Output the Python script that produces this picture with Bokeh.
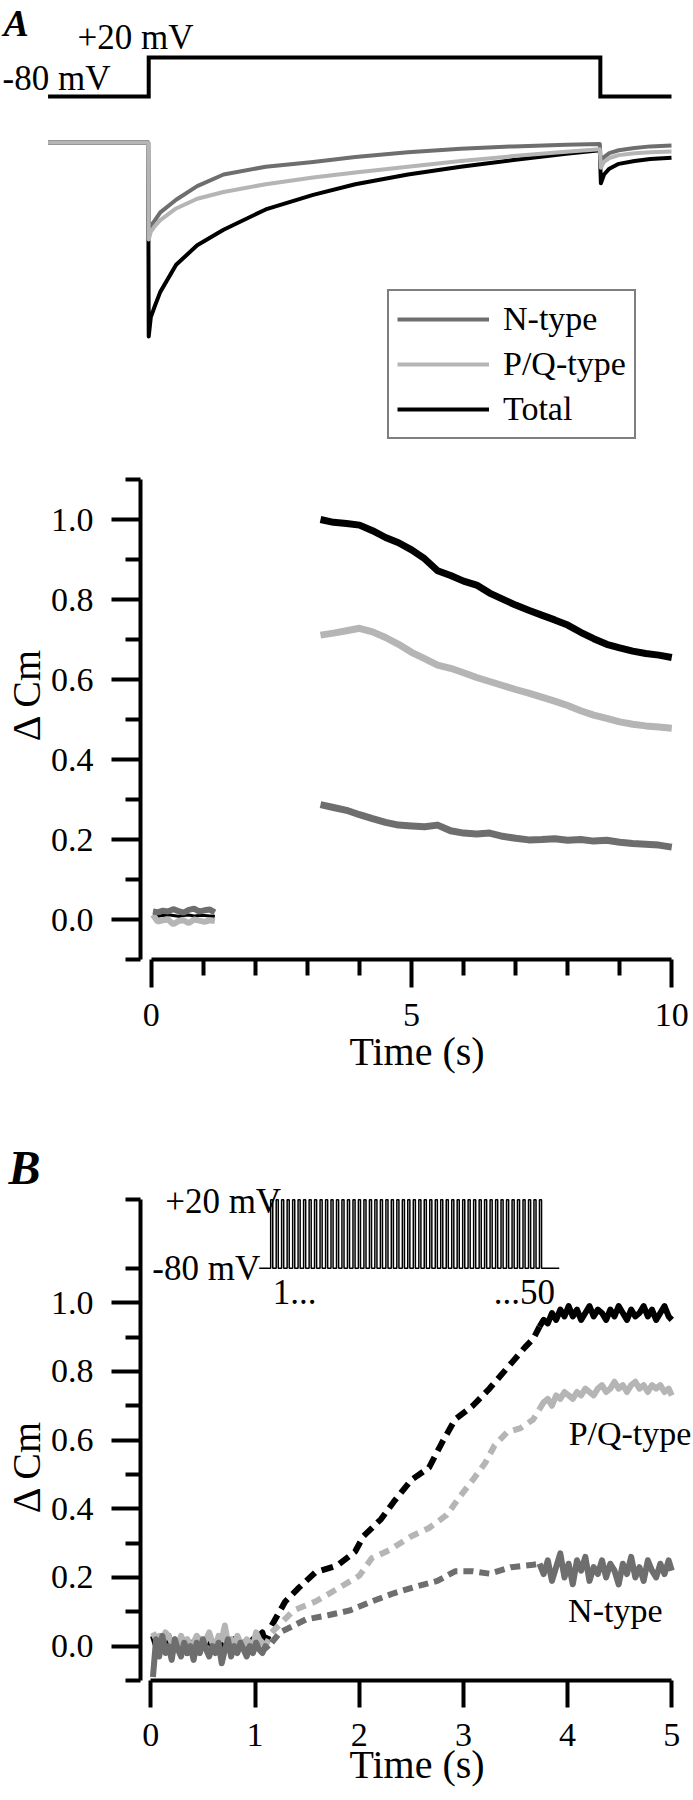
from bokeh.plotting import figure
from bokeh.models import (Range1d, FixedTicker, NumeralTickFormatter, Label,
                          Legend, LegendItem)
from bokeh.layouts import column
from bokeh.embed import file_html
from bokeh.resources import INLINE

FONT = "Liberation Serif"
C_N = "#6e6e6e"
C_PQ = "#b5b5b5"
C_T = "#000000"
NB = "\u00a0"

# ---------------- Panel A (top): voltage protocol and currents ----------------
volt_t = [-1.83, 0.08, 0.08, 8.65, 8.65, 10.0]
volt_mv = [-80, -80, 20, 20, -80, -80]

cur_t = [-1.83, 0.07, 0.08, 0.12, 0.2, 0.3, 0.6, 1.0, 1.5, 2.3, 3.2, 4.0, 5.0, 6.0,
         7.0, 8.0, 8.64, 8.66, 8.72, 8.82, 9.0, 9.3, 9.6, 10.0]
cur_total = [0, 0, -1.0, -0.90, -0.84, -0.77, -0.63, -0.53, -0.45, -0.345,
             -0.27, -0.215, -0.165, -0.125, -0.09, -0.058, -0.04,
             -0.21, -0.165, -0.135, -0.11, -0.095, -0.085, -0.078]
cur_n = [0, 0, -0.47, -0.43, -0.40, -0.36, -0.295, -0.225, -0.165, -0.125,
         -0.1, -0.075, -0.05, -0.032, -0.02, -0.012, -0.008,
         -0.11, -0.075, -0.055, -0.04, -0.028, -0.02, -0.015]
cur_pq = [0, 0, -0.50, -0.46, -0.43, -0.40, -0.34, -0.29, -0.255, -0.215,
          -0.18, -0.155, -0.125, -0.095, -0.07, -0.048, -0.035,
          -0.13, -0.1, -0.08, -0.065, -0.055, -0.05, -0.047]

# ---------------- Panel A (bottom): delta Cm, single depolarisation ----------------
a_pre_t = [0.03, 0.12, 0.22, 0.32, 0.42, 0.52, 0.62, 0.72, 0.82, 0.92, 1.02, 1.12, 1.22]
a_pre_n = [0.02, 0.018, 0.022, 0.02, 0.026, 0.021, 0.017, 0.024, 0.027, 0.02, 0.023, 0.025, 0.018]
a_pre_pq = [0.012, -0.005, -0.002, 0.0, -0.012, -0.004, -0.002, -0.009, 0.0, -0.003, -0.006, -0.002, -0.004]
a_pre_total = [0.01, 0.008, 0.01, 0.012, 0.01, 0.008, 0.01, 0.011, 0.009, 0.01, 0.01, 0.009, 0.008]

a_t = [3.25, 3.5, 3.75, 4.0, 4.25, 4.5, 4.75, 5.0, 5.25, 5.5, 5.75, 6.0, 6.25, 6.5,
       6.75, 7.0, 7.25, 7.5, 7.75, 8.0, 8.25, 8.5, 8.75, 9.0, 9.25, 9.5, 9.75, 10.0]
a_total = [1.0, 0.993, 0.99, 0.986, 0.972, 0.955, 0.942, 0.924, 0.902, 0.872,
           0.86, 0.846, 0.836, 0.816, 0.801, 0.786, 0.773, 0.761, 0.749, 0.736,
           0.718, 0.702, 0.688, 0.679, 0.671, 0.665, 0.661, 0.655]
a_pq = [0.711, 0.716, 0.722, 0.728, 0.719, 0.705, 0.688, 0.668, 0.652, 0.636,
        0.628, 0.617, 0.605, 0.595, 0.585, 0.575, 0.566, 0.556, 0.546, 0.535,
        0.522, 0.511, 0.503, 0.494, 0.488, 0.484, 0.481, 0.478]
a_n = [0.287, 0.28, 0.273, 0.262, 0.252, 0.243, 0.236, 0.234, 0.232, 0.236,
       0.222, 0.216, 0.214, 0.216, 0.208, 0.203, 0.199, 0.2, 0.202, 0.198,
       0.2, 0.196, 0.198, 0.193, 0.19, 0.188, 0.186, 0.181]

# ---------------- Panel B: delta Cm during a 50-pulse train ----------------
b_pre_t = [0.02, 0.05, 0.08, 0.11, 0.14, 0.17, 0.20, 0.23, 0.26, 0.29,
           0.32, 0.35, 0.38, 0.41, 0.44, 0.47, 0.50, 0.53, 0.56, 0.59,
           0.62, 0.65, 0.68, 0.71, 0.74, 0.77, 0.80, 0.83, 0.86, 0.89,
           0.92, 0.95, 0.98, 1.01, 1.04, 1.07, 1.10, 1.13]
b_pre_total = [0.03, 0.0, 0.02, -0.01, 0.01, 0.03, 0.0, -0.01, 0.01, 0.02,
               0.0, -0.02, 0.01, 0.0, 0.02, -0.01, 0.0, 0.01, 0.03, -0.01,
               0.0, 0.02, 0.0, -0.01, 0.01, 0.0, 0.02, -0.01, 0.0, 0.01,
               -0.01, 0.0, 0.02, 0.01, 0.03, 0.04, 0.01, 0.03]
b_pre_pq = [0.04, 0.02, 0.03, 0.0, 0.04, 0.03, 0.01, 0.02, 0.0, 0.03,
            0.01, 0.02, 0.0, 0.01, 0.03, 0.02, 0.0, 0.02, 0.04, 0.01,
            0.0, 0.03, 0.02, 0.06, 0.01, 0.02, 0.0, 0.03, 0.01, 0.0,
            0.02, 0.01, 0.0, 0.04, 0.02, 0.01, 0.0, 0.02]
b_pre_n = [-0.09, 0.02, -0.03, 0.03, -0.02, 0.0, -0.04, 0.02, -0.01, -0.03,
           0.01, -0.02, 0.0, -0.04, 0.01, -0.02, 0.02, -0.01, -0.03, 0.0,
           -0.02, 0.01, -0.05, -0.01, 0.02, -0.03, 0.0, -0.02, 0.01, -0.01,
           -0.03, 0.0, -0.02, 0.01, -0.01, -0.02, 0.0, -0.01]

b_tr_total_t = [1.16, 1.29, 1.41, 1.58, 1.79, 1.96, 2.04, 2.21, 2.33, 2.5,
                2.67, 2.79, 2.92, 3.09, 3.25, 3.42, 3.59, 3.67, 3.73]
b_tr_total = [0.06, 0.13, 0.167, 0.215, 0.235, 0.275, 0.32, 0.37, 0.42, 0.484,
              0.52, 0.59, 0.66, 0.70, 0.75, 0.81, 0.87, 0.895, 0.93]
b_tr_pq_t = [1.16, 1.37, 1.58, 1.79, 2.0, 2.12, 2.29, 2.5, 2.67, 2.84,
             2.96, 3.09, 3.21, 3.3, 3.42, 3.55, 3.67, 3.73]
b_tr_pq = [0.04, 0.104, 0.13, 0.167, 0.205, 0.256, 0.28, 0.32, 0.344, 0.382,
           0.433, 0.484, 0.534, 0.585, 0.623, 0.635, 0.66, 0.69]
b_tr_n_t = [1.16, 1.24, 1.49, 1.7, 1.91, 2.12, 2.33, 2.54, 2.75, 2.92,
            3.09, 3.25, 3.46, 3.67, 3.73]
b_tr_n = [0.01, 0.04, 0.078, 0.09, 0.104, 0.13, 0.154, 0.173, 0.19, 0.218,
          0.218, 0.211, 0.23, 0.237, 0.24]

b_post_t = [3.73, 3.77, 3.81, 3.85, 3.89, 3.93, 3.97, 4.01, 4.05, 4.09,
            4.13, 4.17, 4.21, 4.25, 4.29, 4.33, 4.37, 4.41, 4.45, 4.49,
            4.53, 4.57, 4.61, 4.65, 4.69, 4.73, 4.77, 4.81, 4.85, 4.89,
            4.93, 4.97, 5.0]
b_post_total = [0.93, 0.95, 0.94, 0.97, 0.95, 0.98, 0.96, 0.99, 0.96, 0.98,
                0.95, 0.97, 0.99, 0.96, 0.98, 0.97, 0.95, 0.98, 0.96, 0.99,
                0.97, 0.95, 0.98, 0.96, 0.97, 0.99, 0.96, 0.98, 0.95, 0.97,
                0.99, 0.96, 0.95]
b_post_pq = [0.69, 0.71, 0.72, 0.70, 0.73, 0.72, 0.74, 0.73, 0.72, 0.74,
             0.73, 0.75, 0.74, 0.73, 0.75, 0.76, 0.74, 0.75, 0.77, 0.75,
             0.76, 0.74, 0.76, 0.77, 0.75, 0.76, 0.74, 0.76, 0.75, 0.76,
             0.74, 0.75, 0.73]
b_post_n = [0.24, 0.21, 0.25, 0.19, 0.23, 0.27, 0.20, 0.24, 0.18, 0.25,
            0.22, 0.26, 0.19, 0.23, 0.21, 0.25, 0.20, 0.24, 0.22, 0.18,
            0.24, 0.21, 0.26, 0.20, 0.23, 0.19, 0.25, 0.22, 0.20, 0.24,
            0.21, 0.25, 0.22]

# stimulus protocol of panel B: 50 pulses from -80 mV to +20 mV
pulse_onsets = [1.150, 1.203, 1.255, 1.308, 1.361, 1.413, 1.466, 1.519, 1.571, 1.624,
                1.677, 1.729, 1.782, 1.834, 1.887, 1.940, 1.992, 2.045, 2.098, 2.150,
                2.203, 2.256, 2.308, 2.361, 2.414, 2.466, 2.519, 2.572, 2.624, 2.677,
                2.730, 2.782, 2.835, 2.888, 2.940, 2.993, 3.045, 3.098, 3.151, 3.203,
                3.256, 3.309, 3.361, 3.414, 3.467, 3.519, 3.572, 3.625, 3.677, 3.730]
pulse_width = 0.02
train_hold = [1.04, 3.92]
hold_mv, step_mv = -80, 20

x_ticks_a = [0, 5, 10]
x_minor_a = [1, 2, 3, 4, 6, 7, 8, 9]
x_ticks_b = [0, 1, 2, 3, 4, 5]
y_ticks = [0.0, 0.2, 0.4, 0.6, 0.8, 1.0]
y_minor_a = [-0.1, 0.1, 0.3, 0.5, 0.7, 0.9, 1.1]
y_minor_b = [-0.1, 0.1, 0.3, 0.5, 0.7, 0.9, 1.1, 1.3]


def no_grid(p):
    for g in p.grid:
        g.visible = False


def style_axis(ax, tick_out, minor_out):
    ax.axis_line_width = 4
    ax.axis_line_color = "black"
    ax.major_tick_line_width = 4
    ax.minor_tick_line_width = 4
    ax.major_tick_line_color = "black"
    ax.minor_tick_line_color = "black"
    ax.major_tick_in = 0
    ax.minor_tick_in = 0
    ax.major_tick_out = tick_out
    ax.minor_tick_out = minor_out
    ax.major_label_text_font = FONT
    ax.major_label_text_font_size = "34px"
    ax.major_label_text_color = "black"
    ax.axis_label_text_font = FONT
    ax.axis_label_text_font_size = "40px"
    ax.axis_label_text_font_style = "normal"
    ax.axis_label_text_color = "black"


def txt(p, x, y, s, size="34px", align="left", style="normal", yr="default"):
    p.add_layout(Label(x=x, y=y, text=s, text_font=FONT, text_font_size=size,
                       text_font_style=style, text_align=align, text_baseline="middle",
                       text_color="black", y_range_name=yr))


# ---------------- figure 1 ----------------
p1 = figure(width=693, height=460, x_range=Range1d(-2.7324, 10.4175),
            y_range=Range1d(-1.6392, 0.7320), output_backend="svg",
            toolbar_location=None, x_axis_location=None, y_axis_location=None,
            min_border=0, outline_line_color=None, frame_align=False)
p1.extra_y_ranges = {"v": Range1d(-1013.3, 166.15)}
no_grid(p1)
p1.line(volt_t, volt_mv, y_range_name="v", line_color="black", line_width=4,
        line_join="miter")
r_t = p1.line(cur_t, cur_total, line_color=C_T, line_width=4, line_join="round")
r_n = p1.line(cur_t, cur_n, line_color=C_N, line_width=4, line_join="round")
r_pq = p1.line(cur_t, cur_pq, line_color=C_PQ, line_width=4, line_join="round")
legend = Legend(items=[LegendItem(label="N-type", renderers=[r_n]),
                       LegendItem(label="P/Q-type", renderers=[r_pq]),
                       LegendItem(label="Total", renderers=[r_t])],
                location=(387, 21), border_line_color="black", border_line_width=2,
                background_fill_color="white", background_fill_alpha=1.0,
                label_text_font=FONT, label_text_font_size="34px",
                label_text_color="black", glyph_width=92, glyph_height=40,
                label_height=40, label_standoff=14, spacing=5, padding=8, margin=0)
p1.add_layout(legend, "center")
txt(p1, -2.6755, 107.2, "A", size="38px", style="bold italic", yr="v")
txt(p1, -1.271, 71.3, "+20 mV", size="35px", yr="v")
txt(p1, -2.694, -32.6, "-80 mV", size="35px", yr="v")

# ---------------- figure 2 ----------------
p2 = figure(width=693, height=629, x_range=Range1d(-0.2087, 10.4175),
            y_range=Range1d(-0.1, 1.1), output_backend="svg", toolbar_location=None,
            min_border_left=133, min_border_right=0, min_border_top=19,
            min_border_bottom=130, outline_line_color=None, frame_align=False)
no_grid(p2)
xa = p2.xaxis[0]
style_axis(xa, 28, 16)
xa.ticker = FixedTicker(ticks=x_ticks_a, minor_ticks=x_minor_a)
xa.bounds = (0, 10)
xa.major_label_standoff = 16
xa.axis_label = "Time (s)"
xa.axis_label_standoff = 0
ya = p2.yaxis[0]
style_axis(ya, 29, 15)
ya.ticker = FixedTicker(ticks=y_ticks, minor_ticks=y_minor_a)
ya.formatter = NumeralTickFormatter(format="0.0")
ya.bounds = (-0.1, 1.1)
ya.major_label_standoff = 18
ya.axis_label = NB * 5 + "\u0394 Cm"
ya.axis_label_standoff = -1

p2.line(a_pre_t, a_pre_total, line_color=C_T, line_width=3)
p2.line(a_pre_t, a_pre_pq, line_color=C_PQ, line_width=6)
p2.line(a_pre_t, a_pre_n, line_color=C_N, line_width=6)
p2.line(a_t, a_total, line_color=C_T, line_width=7, line_join="round")
p2.line(a_t, a_pq, line_color=C_PQ, line_width=7, line_join="round")
p2.line(a_t, a_n, line_color=C_N, line_width=7, line_join="round")

# ---------------- figure 3 ----------------
p3 = figure(width=693, height=711, x_range=Range1d(-0.0995, 5.2085),
            y_range=Range1d(-0.1, 1.35), output_backend="svg", toolbar_location=None,
            min_border_left=133, min_border_right=0, min_border_top=93,
            min_border_bottom=120, outline_line_color=None, frame_align=False,
            title="B")
p3.title.text_font = FONT
p3.title.text_font_size = "48px"
p3.title.text_font_style = "bold italic"
p3.title.text_color = "black"
p3.title.align = "left"
p3.title.offset = -132
p3.title.standoff = -22
p3.extra_y_ranges = {"v": Range1d(-680, 45)}
no_grid(p3)
xb = p3.xaxis[0]
style_axis(xb, 27, 0)
xb.ticker = FixedTicker(ticks=x_ticks_b, minor_ticks=[])
xb.bounds = (0, 5)
xb.major_label_standoff = 16
xb.axis_label = "Time (s)"
xb.axis_label_standoff = -7
yb = p3.yaxis[0]
style_axis(yb, 29, 15)
yb.ticker = FixedTicker(ticks=y_ticks, minor_ticks=y_minor_b)
yb.formatter = NumeralTickFormatter(format="0.0")
yb.bounds = (-0.1, 1.3)
yb.major_label_standoff = 18
yb.axis_label = "\u0394 Cm" + NB * 7
yb.axis_label_standoff = -1

for tt, vv, col in [(b_pre_t, b_pre_total, C_T), (b_pre_t, b_pre_pq, C_PQ),
                    (b_pre_t, b_pre_n, C_N)]:
    p3.line(tt, vv, line_color=col, line_width=6, line_join="round")
p3.line(b_tr_total_t, b_tr_total, line_color=C_T, line_width=6, line_dash="12 7")
p3.line(b_tr_pq_t, b_tr_pq, line_color=C_PQ, line_width=6, line_dash="10 7")
p3.line(b_tr_n_t, b_tr_n, line_color=C_N, line_width=6, line_dash="10 6")
p3.line(b_post_t, b_post_total, line_color=C_T, line_width=6, line_join="round")
p3.line(b_post_t, b_post_pq, line_color=C_PQ, line_width=6, line_join="round")
p3.line(b_post_t, b_post_n, line_color=C_N, line_width=6, line_join="round")

# pulse-train inset, drawn on the voltage range
px = [train_hold[0]]
py = [hold_mv]
for on in pulse_onsets:
    px += [on, on, on + pulse_width, on + pulse_width]
    py += [hold_mv, step_mv, step_mv, hold_mv]
px.append(train_hold[1])
py.append(hold_mv)
p3.line(px, py, y_range_name="v", line_color="black", line_width=1.5)

txt(p3, 0.137, 18, "+20 mV", size="35px", yr="v")
txt(p3, 0.014, -80, "-80 mV", size="35px", yr="v")
txt(p3, 1.17, -115, "1...", size="35px", yr="v")
txt(p3, 3.88, -115, "...50", size="35px", align="right", yr="v")
txt(p3, 4.01, 0.62, "P/Q-type", size="34px")
txt(p3, 4.005, 0.105, "N-type", size="34px")

layout = column(p1, p2, p3, spacing=0)
open("out.html", "w").write(file_html(layout, INLINE, title="Figure"))
